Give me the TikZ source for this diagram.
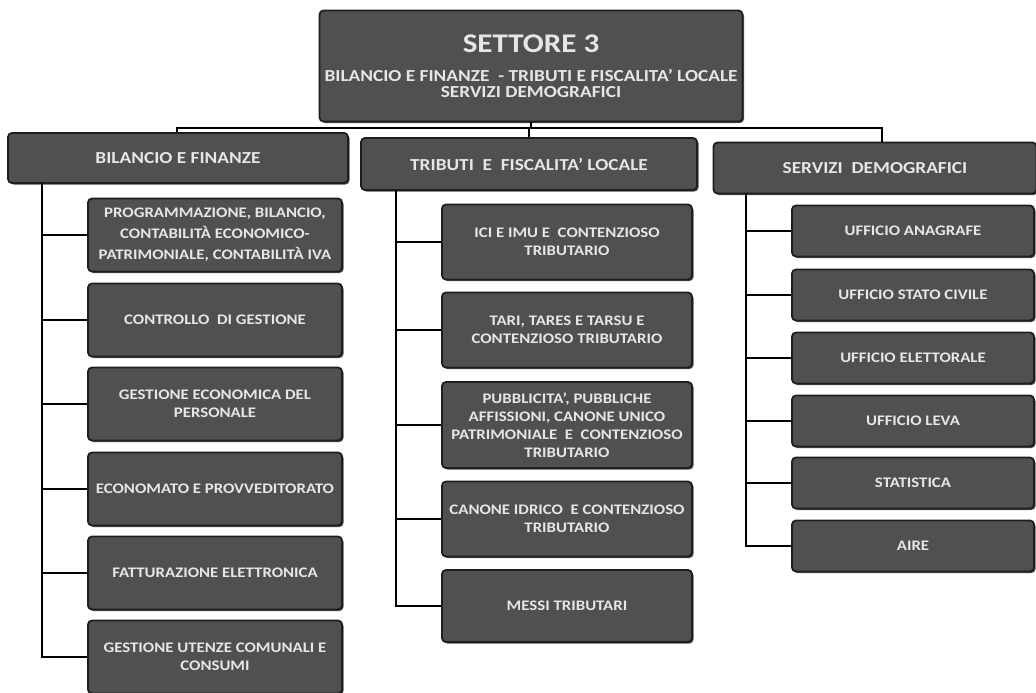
\documentclass[tikz,border=0pt]{standalone}
\usepackage{fontspec}
\setmainfont{Carlito}[FakeStretch=1.15]
\usetikzlibrary{shadows}
\definecolor{boxfill}{HTML}{505050}
\definecolor{boxedge}{HTML}{1E1E1E}
\definecolor{boxtext}{HTML}{E6E6E6}
\tikzset{
  box/.style={draw=boxedge, line width=1.8pt, fill=boxfill, rounded corners=4pt,
    text=boxtext, font=\bfseries\fontsize{14.6}{18}\selectfont, align=center,
    inner sep=2pt, drop shadow={shadow xshift=1.5pt, shadow yshift=-1.5pt, fill=black, opacity=0.7}},
  head/.style={box, font=\bfseries\fontsize{16.8}{18}\selectfont},
  conn/.style={draw=black, line width=1.6pt}
}
\begin{document}
\begin{tikzpicture}[x=1pt,y=-1pt]
\useasboundingbox (0,0) rectangle (1036,693);
% top
\node[box, minimum width=423pt, minimum height=111pt, font=\bfseries\fontsize{16.8}{16}\selectfont] (top) at (531,66)
  {{\fontsize{27}{28}\selectfont SETTORE 3}\\[13pt]
   BILANCIO E FINANZE \ - TRIBUTI E FISCALITA' LOCALE\\
   SERVIZI DEMOGRAFICI};
% headers
\node[head, minimum width=340pt, minimum height=50pt] (hb) at (178,158) {BILANCIO E FINANZE};
\node[head, minimum width=336pt, minimum height=52pt] (ht) at (529,164) {TRIBUTI \ E \ FISCALITA' LOCALE};
\node[head, minimum width=323pt, minimum height=51pt] (hs) at (875,168) {SERVIZI \ DEMOGRAFICI};
% bus
\coordinate (busL) at (177,128);
\coordinate (busR) at (882,128);
\draw[conn] (top.south) -- (top.south |- busL);
\draw[conn] (busL |- hb.north) -- (busL) -- (busR) -- (busR |- hs.north);
\draw[conn] (ht.north) -- (ht.north |- busL);
% bilancio children
\foreach \n/\y/\t in {
  b1/235/{PROGRAMMAZIONE, BILANCIO,\\[3pt]CONTABILITÀ ECONOMICO-\\[3pt]PATRIMONIALE, CONTABILITÀ IVA},
  b2/320/{CONTROLLO \ DI GESTIONE},
  b3/404/{GESTIONE ECONOMICA DEL\\PERSONALE},
  b4/489/{ECONOMATO E PROVVEDITORATO},
  b5/573/{FATTURAZIONE ELETTRONICA},
  b6/657/{GESTIONE UTENZE COMUNALI E\\CONSUMI}}
  \node[box, minimum width=254pt, minimum height=73pt] (\n) at (215,\y) {\t};
\coordinate (vb) at (42,183);
\draw[conn] (vb) |- (b6.west);
\foreach \n in {b1,b2,b3,b4,b5} \draw[conn] (vb |- \n.west) -- (\n.west);
% tributi children
\node[box, minimum width=250pt, minimum height=75pt] (t1) at (567,242) {ICI E IMU E \ CONTENZIOSO\\TRIBUTARIO};
\node[box, minimum width=250pt, minimum height=75pt] (t2) at (567,330) {TARI, TARES E TARSU E\\CONTENZIOSO TRIBUTARIO};
\node[box, minimum width=250pt, minimum height=86pt] (t3) at (567,425) {PUBBLICITA', PUBBLICHE\\AFFISSIONI, CANONE UNICO\\PATRIMONIALE \ E \ CONTENZIOSO\\TRIBUTARIO};
\node[box, minimum width=250pt, minimum height=75pt] (t4) at (567,519) {CANONE IDRICO \ E CONTENZIOSO\\TRIBUTARIO};
\node[box, minimum width=250pt, minimum height=72pt] (t5) at (567,606) {MESSI TRIBUTARI};
\coordinate (vt) at (396,190);
\draw[conn] (vt) |- (t5.west);
\foreach \n in {t1,t2,t3,t4} \draw[conn] (vt |- \n.west) -- (\n.west);
% servizi children
\foreach \n/\y/\t in {
  s1/231/{UFFICIO ANAGRAFE},
  s2/295/{UFFICIO STATO CIVILE},
  s3/358/{UFFICIO ELETTORALE},
  s4/421/{UFFICIO LEVA},
  s5/483/{STATISTICA},
  s6/546/{AIRE}}
  \node[box, minimum width=242pt, minimum height=51pt] (\n) at (913,\y) {\t};
\coordinate (vs) at (746,193);
\draw[conn] (vs) |- (s6.west);
\foreach \n in {s1,s2,s3,s4,s5} \draw[conn] (vs |- \n.west) -- (\n.west);
\end{tikzpicture}
\end{document}
